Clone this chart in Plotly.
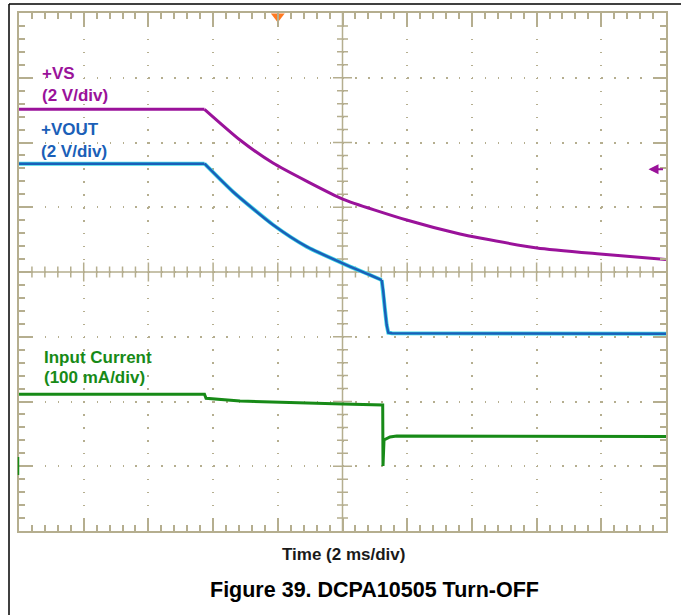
import plotly.graph_objects as go

# ---------------- data (time in ms, amplitude in screen divisions) ----------------
vs_t = [0.0, 5.734, 6.832, 7.852, 8.903, 10.006, 11.985, 13.632, 14.25, 16.012, 17.96, 20.0]
vs_div = [6.513, 6.513, 6.039, 5.683, 5.40, 5.127, 4.803, 4.587, 4.525, 4.371, 4.278, 4.193]
vs_knee = 1  # index where the decay begins

vout_t = [0.0, 5.734, 6.615, 7.861, 8.893, 10.006, 10.85, 11.212, 11.261, 11.314, 11.366, 11.416, 11.53, 20.0]
vout_div = [5.673, 5.673, 5.240, 4.726, 4.391, 4.134, 3.954, 3.876, 3.696, 3.413, 3.181, 3.063, 3.053, 3.047]
vout_knee = 1   # index where the decay begins
vout_drop = 7   # index where the fast drop begins

iin_t = [0.0, 5.734, 5.781, 6.832, 10.006, 11.243, 11.252, 11.283, 11.468, 11.675, 20.0]
iin_div = [2.111, 2.111, 2.049, 2.008, 1.961, 1.946, 1.004, 1.405, 1.452, 1.467, 1.459]

x_divs = 10
y_divs = 8
ms_per_div = 2.0
minor_per_div = 5
trigger_ms = 8.0

GRID = "#b5ae8f"
PURPLE = "#9a129a"
BLUE = "#1b5fb8"
CYAN = "#3fd8e8"
GREEN = "#178a17"
FONT = "Liberation Sans, Arial, sans-serif"

W, H = 681, 615
L, R, T, B = 19, 15, 13, 84
pw, ph = W - L - R, H - T - B
xmax = x_divs * ms_per_div
px_x = xmax / pw          # ms per pixel
px_y = y_divs / ph        # div per pixel

fig = go.Figure()


def add_piece(xs, ys, color, width, smooth):
    line = dict(color=color, width=width)
    if smooth:
        line.update(shape="spline", smoothing=0.6)
    fig.add_trace(go.Scatter(x=xs, y=ys, mode="lines", line=line, hoverinfo="skip"))


# +VS: flat part then smooth decay
add_piece(vs_t[:vs_knee + 1], vs_div[:vs_knee + 1], PURPLE, 3, False)
add_piece(vs_t[vs_knee:], vs_div[vs_knee:], PURPLE, 3, True)

# +VOUT: flat, smooth decay, fast drop and flat
for col, wid in ((CYAN, 4), (BLUE, 2.5)):
    add_piece(vout_t[:vout_knee + 1], vout_div[:vout_knee + 1], col, wid, False)
    add_piece(vout_t[vout_knee:vout_drop + 1], vout_div[vout_knee:vout_drop + 1], col, wid, True)
    add_piece(vout_t[vout_drop:], vout_div[vout_drop:], col, wid, False)

# input current
add_piece(iin_t, iin_div, GREEN, 3, False)

# trigger marker
fig.add_trace(go.Scatter(x=[trigger_ms], y=[y_divs - 3.5 * px_y], mode="markers",
                         marker=dict(symbol="triangle-down", size=12, color="#ff7a22",
                                     line=dict(width=0)),
                         cliponaxis=False, hoverinfo="skip"))

# center cross with ticks
cx = xmax / 2
cy = y_divs / 2
path = f"M{cx},0 L{cx},{y_divs} M0,{cy} L{xmax},{cy}"
n_x = x_divs * minor_per_div
for i in range(1, n_x):
    x = i * xmax / n_x
    half = (9.5 if i % minor_per_div == 0 else 5.5) * px_y
    path += f" M{x},{cy - half} L{x},{cy + half}"
n_y = y_divs * minor_per_div
for j in range(1, n_y):
    y = j * y_divs / n_y
    half = (9.5 if j % minor_per_div == 0 else 5.5) * px_x
    path += f" M{cx - half},{y} L{cx + half},{y}"

shapes = [dict(type="path", xref="x", yref="y", path=path,
               line=dict(color=GRID, width=1.5), layer="below")]


def px2paper_x(p):
    return (p - L) / pw


def py2paper_y(p):
    return (H - B - p) / ph


# outer black frame (top and left)
shapes.append(dict(type="line", xref="paper", yref="paper",
                   x0=px2paper_x(9), x1=px2paper_x(W + 2), y0=py2paper_y(4), y1=py2paper_y(4),
                   line=dict(color="black", width=1.5)))
shapes.append(dict(type="line", xref="paper", yref="paper",
                   x0=px2paper_x(9), x1=px2paper_x(9), y0=py2paper_y(4), y1=py2paper_y(H + 2),
                   line=dict(color="black", width=1.5)))
# channel reference mark on left border
shapes.append(dict(type="line", xref="paper", yref="paper",
                   x0=px2paper_x(18.5), x1=px2paper_x(18.5), y0=py2paper_y(457), y1=py2paper_y(475),
                   line=dict(color=GREEN, width=1.5)))

annotations = []


def label(text, xpx, ypx, color, size=17):
    annotations.append(dict(text=f"<b>{text}</b>", xref="paper", yref="paper",
                            x=px2paper_x(xpx), y=py2paper_y(ypx), xanchor="left",
                            yanchor="middle", showarrow=False,
                            font=dict(family=FONT, size=size, color=color)))


label("+VS", 39.5, 73, PURPLE)
label("(2 V/div)", 39.5, 95, PURPLE)
label("+VOUT", 38.5, 129, BLUE)
label("(2 V/div)", 38.5, 151, BLUE)
label("Input Current", 42, 357, GREEN)
label("(100 mA/div)", 42, 377.5, GREEN)

annotations.append(dict(text="<b>Time (2 ms/div)</b>", xref="paper", yref="paper",
                        x=px2paper_x(343.5), y=py2paper_y(554), xanchor="center", yanchor="middle",
                        showarrow=False, font=dict(family=FONT, size=17, color="#1a1a1a")))
annotations.append(dict(text="<b>Figure 39. DCPA10505 Turn-OFF</b>", xref="paper", yref="paper",
                        x=px2paper_x(374), y=py2paper_y(590), xanchor="center", yanchor="middle",
                        showarrow=False, font=dict(family=FONT, size=21.5, color="black")))
# reference arrow on right edge
annotations.append(dict(text="", xref="x", yref="y", x=(648.5 - L) * px_x,
                        y=(H - B - 169.3) * px_y, ax=16, ay=0, showarrow=True,
                        arrowhead=2, arrowsize=1, arrowwidth=2, arrowcolor=PURPLE))

axis_common = dict(showticklabels=False, ticks="inside", ticklen=13, tickwidth=1.5,
                   tickcolor=GRID, showline=True, linecolor=GRID, linewidth=2,
                   mirror="ticks", showgrid=True, gridcolor=GRID, gridwidth=1.5,
                   griddash="1.5px,11.44px", zeroline=False, fixedrange=True)

fig.update_layout(
    width=W, height=H,
    margin=dict(l=L, r=R, t=T, b=B, pad=0),
    paper_bgcolor="white", plot_bgcolor="white",
    showlegend=False,
    xaxis=dict(range=[0, xmax], dtick=ms_per_div, tick0=0,
               minor=dict(ticks="inside", ticklen=6, tickwidth=1.5, tickcolor=GRID,
                          dtick=ms_per_div / minor_per_div, showgrid=False),
               **axis_common),
    yaxis=dict(range=[0, y_divs], dtick=1, tick0=0,
               minor=dict(ticks="inside", ticklen=6, tickwidth=1.5, tickcolor=GRID,
                          dtick=1 / minor_per_div, showgrid=False),
               **axis_common),
    shapes=shapes,
    annotations=annotations,
)

fig.write_html("out.html", config={"displayModeBar": False},
               post_script="document.body.style.margin='0';document.body.style.overflow='hidden';")
